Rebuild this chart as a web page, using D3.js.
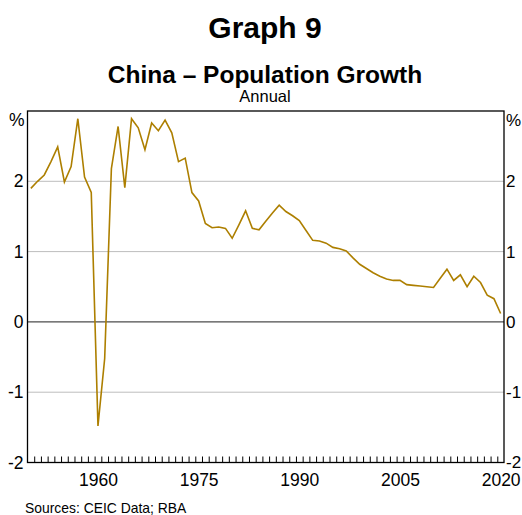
<!DOCTYPE html>
<html>
<head>
<meta charset="utf-8">
<script src="https://cdn.jsdelivr.net/npm/d3@7"></script>
<style>
  html, body { margin: 0; padding: 0; background: #fff; }
  svg { display: block; }
  text { font-family: "Liberation Sans", Arial, sans-serif; fill: #000; }
</style>
</head>
<body>
<div id="chart"></div>
<script>
// ---- Data ----
const years = d3.range(1950, 2021);
const growth = [
  1.90, 2.00, 2.09, 2.28, 2.49, 1.99, 2.21, 2.89, 2.06, 1.84,   // 1950-1959
 -1.48, -0.52, 2.18, 2.78, 1.91, 2.89, 2.76, 2.45, 2.83, 2.72,  // 1960-1969
  2.87, 2.69, 2.28, 2.33, 1.84, 1.72, 1.40, 1.34, 1.35, 1.33,   // 1970-1979
  1.19, 1.38, 1.58, 1.33, 1.31, 1.43, 1.55, 1.66, 1.57, 1.51,   // 1980-1989
  1.44, 1.30, 1.16, 1.15, 1.12, 1.06, 1.04, 1.01, 0.91, 0.82,   // 1990-1999
  0.76, 0.70, 0.65, 0.61, 0.59, 0.59, 0.53, 0.52, 0.51, 0.50,   // 2000-2009
  0.49, 0.62, 0.75, 0.59, 0.67, 0.50, 0.65, 0.56, 0.38, 0.33,   // 2010-2019
  0.12                                                          // 2020
];
const xTickLabels = [1960, 1975, 1990, 2005, 2020];
const yTicks = [-2, -1, 0, 1, 2];
const titleText = "Graph 9";
const subtitleText = "China – Population Growth";
const noteText = "Annual";
const unitText = "%";
const sourceText = "Sources: CEIC Data; RBA";

// ---- Layout ----
const W = 522, H = 515;
const m = { left: 27.5, right: 504, top: 111, bottom: 462.5 };
const lineColor = "#ad7f00";
const fontFam = '"Liberation Sans", Arial, sans-serif';
const fmt = d => String(d);

const svg = d3.select("#chart").append("svg")
  .attr("width", W).attr("height", H);

const x = d3.scaleLinear().domain([1949.5, 2020.5]).range([m.left, m.right]);
const y = d3.scaleLinear().domain([-2, 3]).range([m.bottom, m.top]);

// Titles
svg.append("text").attr("x", 265).attr("y", 38)
  .attr("text-anchor", "middle").attr("font-weight", "bold").attr("font-size", 30)
  .text(titleText);
svg.append("text").attr("x", 265).attr("y", 83)
  .attr("text-anchor", "middle").attr("font-weight", "bold").attr("font-size", 24.5)
  .text(subtitleText);
svg.append("text").attr("x", 265).attr("y", 102)
  .attr("text-anchor", "middle").attr("font-size", 16.5)
  .text(noteText);

// Gridlines
svg.append("g").selectAll("line")
  .data(yTicks.filter(d => d !== -2))
  .join("line")
  .attr("x1", m.left).attr("x2", m.right)
  .attr("y1", d => y(d)).attr("y2", d => y(d))
  .attr("stroke", d => d === 0 ? "#4d4d4d" : "#bdbdbd")
  .attr("stroke-width", d => d === 0 ? 1.3 : 1);

// Minor year ticks on the bottom axis
const minorAxis = d3.axisBottom(x)
  .tickValues(d3.range(1950.5, 2020.5, 1))
  .tickSize(-6).tickFormat("");
const gMinor = svg.append("g").attr("transform", `translate(0,${m.bottom})`).call(minorAxis);
gMinor.select(".domain").remove();
gMinor.selectAll("line").attr("stroke", "#000").attr("stroke-width", 1);

// Year labels
const labelAxis = d3.axisBottom(x).tickValues(xTickLabels).tickSize(0).tickPadding(11)
  .tickFormat(fmt);
const gLab = svg.append("g").attr("transform", `translate(0,${m.bottom})`).call(labelAxis);
gLab.select(".domain").remove();
gLab.selectAll("text").attr("font-size", 17.5)
  .attr("font-family", fontFam).attr("fill", "#000");

// Y axes labels (left and right)
const leftAxis = d3.axisLeft(y).tickValues(yTicks).tickSize(0).tickPadding(4).tickFormat(fmt);
const gL = svg.append("g").attr("transform", `translate(${m.left},0)`).call(leftAxis);
gL.select(".domain").remove();
gL.selectAll("text").attr("font-size", 17.5)
  .attr("font-family", fontFam).attr("fill", "#000");

const rightAxis = d3.axisRight(y).tickValues(yTicks).tickSize(0).tickPadding(2).tickFormat(fmt);
const gR = svg.append("g").attr("transform", `translate(${m.right},0)`).call(rightAxis);
gR.select(".domain").remove();
gR.selectAll("text").attr("font-size", 17)
  .attr("font-family", fontFam).attr("fill", "#000");

// Unit labels
svg.append("text").attr("x", m.left - 3).attr("y", 126)
  .attr("text-anchor", "end").attr("font-size", 17.5).text(unitText);
svg.append("text").attr("x", m.right + 2).attr("y", 126)
  .attr("text-anchor", "start").attr("font-size", 17).text(unitText);

// Frame
svg.append("rect")
  .attr("x", m.left).attr("y", m.top)
  .attr("width", m.right - m.left).attr("height", m.bottom - m.top)
  .attr("fill", "none").attr("stroke", "#000").attr("stroke-width", 1.3);

// Series line
const data = years.map((yr, i) => ({ year: yr, value: growth[i] }));
svg.append("path").datum(data)
  .attr("fill", "none").attr("stroke", lineColor).attr("stroke-width", 1.6)
  .attr("stroke-linejoin", "miter")
  .attr("d", d3.line().x(d => x(d.year)).y(d => y(d.value)));

// Source
svg.append("text").attr("x", 25).attr("y", 513)
  .attr("font-size", 13.9).text(sourceText);
</script>
</body>
</html>
